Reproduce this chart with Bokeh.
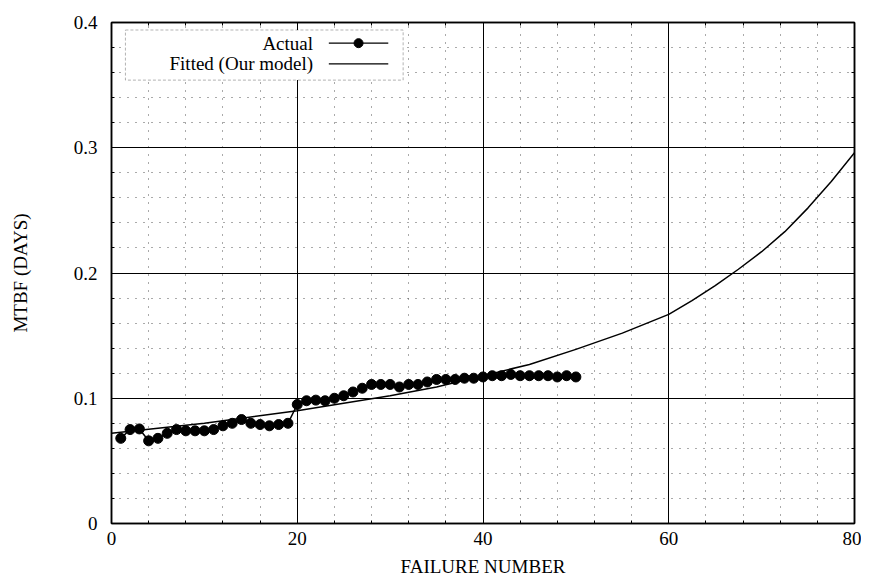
from bokeh.plotting import figure
from bokeh.models import (LinearAxis, SingleIntervalTicker, Range1d, BoxAnnotation,
                          Label, CustomJSTickFormatter)
from bokeh.embed import file_html
from bokeh.resources import INLINE

# ---- data ----
failure_no = list(range(1, 51))
mtbf_actual = [0.068, 0.075, 0.0755, 0.066, 0.068, 0.072, 0.075, 0.074, 0.074, 0.074,
               0.075, 0.078, 0.080, 0.083, 0.080, 0.079, 0.078, 0.079, 0.080, 0.095,
               0.098, 0.0985, 0.098, 0.100, 0.102, 0.105, 0.108, 0.111, 0.111, 0.111,
               0.109, 0.111, 0.111, 0.113, 0.115, 0.115, 0.115, 0.116, 0.116, 0.117,
               0.118, 0.118, 0.119, 0.118, 0.118, 0.118, 0.118, 0.117, 0.118, 0.117]
fit_x = [0, 5, 10, 15, 20, 25, 30, 35, 40, 45, 50, 55, 60, 62.5, 65, 67.5, 70, 72.5, 75, 77.5, 80]
fit_y = [0.072, 0.076, 0.080, 0.085, 0.090, 0.096, 0.102, 0.109, 0.118, 0.127, 0.139,
         0.152, 0.167, 0.178, 0.190, 0.203, 0.217, 0.233, 0.252, 0.273, 0.296]
x_ticks_interval = 20
y_ticks_interval = 0.1
legend_labels = ["Actual", "Fitted (Our model)"]

FONT = "Liberation Serif"
FS = "19px"

p = figure(width=861, height=579, output_backend="svg", toolbar_location=None,
           x_range=Range1d(0, 80), y_range=Range1d(0, 0.4),
           x_axis_label="FAILURE NUMBER", y_axis_label="MTBF (DAYS)",
           min_border_left=111, min_border_right=7, min_border_top=22, min_border_bottom=54)
p.background_fill_color = "white"
p.border_fill_color = "white"
p.outline_line_color = "black"
p.outline_line_width = 1.5

xt = SingleIntervalTicker(interval=x_ticks_interval, num_minor_ticks=5)
yt = SingleIntervalTicker(interval=y_ticks_interval, num_minor_ticks=5)
p.xaxis.ticker = xt
p.yaxis.ticker = yt
p.yaxis.major_label_overrides = {0: "0", 0.1: "0.1", 0.2: "0.2", 0.3: "0.3", 0.4: "0.4"}

for ax in (p.xaxis[0], p.yaxis[0]):
    ax.major_tick_in = 6
    ax.major_tick_out = 0
    ax.minor_tick_in = 3
    ax.minor_tick_out = 0
    ax.axis_line_color = "black"
    ax.axis_line_width = 1.5
    ax.major_label_text_font = FONT
    ax.major_label_text_font_size = FS
    ax.major_label_text_color = "black"
    ax.axis_label_text_font = FONT
    ax.axis_label_text_font_size = FS
    ax.axis_label_text_font_style = "normal"
    ax.axis_label_text_color = "black"
p.xaxis.major_label_standoff = 8
p.xaxis.axis_label_standoff = 8
p.yaxis.major_label_standoff = 14
p.yaxis.axis_label_standoff = 40

blank = CustomJSTickFormatter(code="return ''")
for side, tk in (("right", yt), ("above", xt)):
    ax = LinearAxis(ticker=tk, formatter=blank, major_tick_in=6, major_tick_out=0,
                    minor_tick_in=3, minor_tick_out=0, major_label_standoff=0,
                    axis_line_color="black", axis_line_width=1.5,
                    major_label_text_font_size="1px")
    p.add_layout(ax, side)

for g in (p.xgrid[0], p.ygrid[0]):
    g.grid_line_color = "black"
    g.grid_line_width = 1
    g.minor_grid_line_color = "#555555"
    g.minor_grid_line_width = 1
    g.minor_grid_line_dash = "1 7"

# custom legend box (drawn above the grid, below the glyphs)
p.add_layout(BoxAnnotation(left=1.5, right=31.4, top=0.394, bottom=0.354,
                           fill_color="white", fill_alpha=1.0, line_color="black",
                           line_width=1, line_dash="3 2", level="underlay"))

# fitted curve
p.line(fit_x, fit_y, line_color="black", line_width=1.5)
# actual
p.line(failure_no, mtbf_actual, line_color="black", line_width=1.5)
p.scatter(failure_no, mtbf_actual, size=10, fill_color="black", line_color="black")

# legend entries: text right-aligned, sample on the right
for lab, yy in zip(legend_labels, [0.3835, 0.367]):
    p.add_layout(Label(x=21.7, y=yy, text=lab, text_align="right", text_baseline="middle",
                       text_font=FONT, text_font_size=FS, text_color="black"))
p.segment(x0=[23.4, 23.4], y0=[0.3835, 0.367], x1=[29.8, 29.8], y1=[0.3835, 0.367],
          line_color="black", line_width=1.2)
p.scatter(x=[26.6], y=[0.3835], size=9, fill_color="black", line_color="black")

open("out.html", "w").write(file_html(p, INLINE))
